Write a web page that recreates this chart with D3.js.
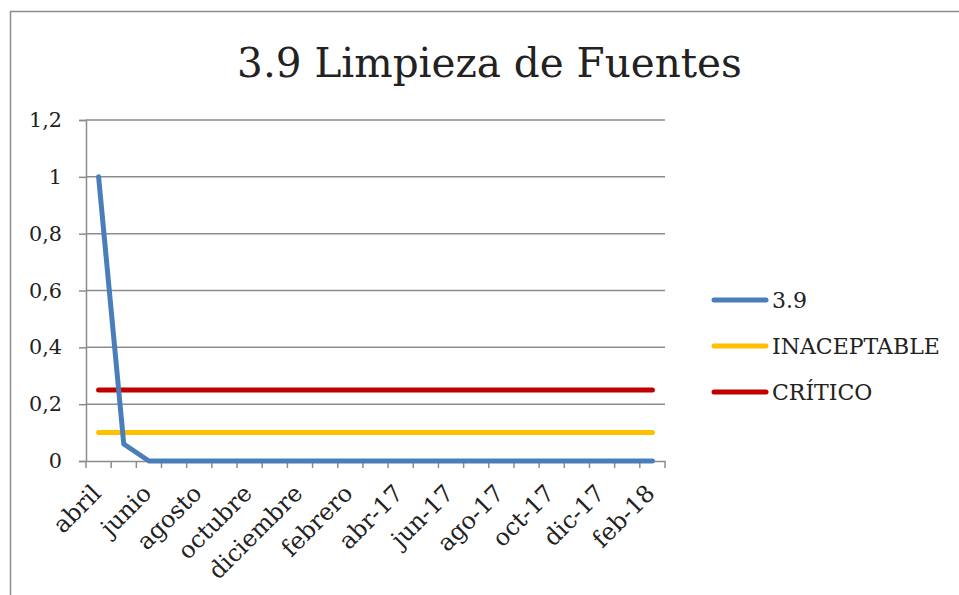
<!DOCTYPE html>
<html>
<head>
<meta charset="utf-8">
<script src="https://cdn.jsdelivr.net/npm/d3@7"></script>
<style>
body{margin:0;background:#fff;}
svg{display:block;}
text{font-family:"DejaVu Serif",serif;fill:#222;}
</style>
</head>
<body>
<svg id="c" width="959" height="595"></svg>
<script>
const months = ["abril","mayo","junio","julio","agosto","septiembre","octubre","noviembre","diciembre","enero","febrero","marzo","abr-17","may-17","jun-17","jul-17","ago-17","sep-17","oct-17","nov-17","dic-17","ene-18","feb-18"];
const tickLabels = ["abril","junio","agosto","octubre","diciembre","febrero","abr-17","jun-17","ago-17","oct-17","dic-17","feb-18"];
const values39 = [1,0.06,0,0,0,0,0,0,0,0,0,0,0,0,0,0,0,0,0,0,0,0,0];
const inaceptable = months.map(() => 0.1);
const critico = months.map(() => 0.25);
const yTicks = [0,0.2,0.4,0.6,0.8,1,1.2];
const seriesNames = ["3.9","INACEPTABLE","CRÍTICO"];
const colors = ["#4a7ebb","#ffc000","#c00000"];

const svg = d3.select("#c");

// measure helper: font size so that sample text has target width
function fitSize(sample, target, base){
  const t = svg.append("text").attr("font-size",base).text(sample);
  const w = t.node().getComputedTextLength();
  t.remove();
  return base*target/w;
}
const titleSize = fitSize("3.9 Limpieza de Fuentes", 505, 40);
const legendSize = fitSize("INACEPTABLE", 168, 20);
const xLabSize = fitSize("diciembre", 121, 20);
const yLabSize = fitSize("0,8", 33, 20);

// chart frame
svg.append("rect").attr("x",10.5).attr("y",11.5).attr("width",1000).attr("height",700)
  .attr("fill","none").attr("stroke","#8c8c8c").attr("stroke-width",1.5);

const x = d3.scaleBand().domain(months).range([86,665]).padding(0);
const y = d3.scaleLinear().domain([0,1.2]).range([461,120]);
const cx = d => x(d) + x.bandwidth()/2;

// gridlines
svg.append("g").selectAll("line").data(yTicks.filter(d=>d>0)).join("line")
  .attr("x1",86).attr("x2",665).attr("y1",d=>y(d)).attr("y2",d=>y(d))
  .attr("stroke","#8c8c8c").attr("stroke-width",1.5);

// y axis
const yAxis = svg.append("g").attr("transform","translate(86,0)")
  .call(d3.axisLeft(y).tickValues(yTicks).tickSize(7).tickPadding(17)
    .tickFormat(d => d3.format("~g")(d).replace(".",",")));
yAxis.select(".domain").attr("stroke","#8c8c8c").attr("stroke-width",1.5);
yAxis.selectAll(".tick line").attr("stroke","#8c8c8c").attr("stroke-width",1.5);
yAxis.selectAll(".tick text").attr("font-size",yLabSize).attr("font-family","DejaVu Serif").attr("fill","#222");

// x axis
const xAxis = svg.append("g").attr("transform","translate(0,461)")
  .call(d3.axisBottom(x).tickSize(0).tickFormat(""));
xAxis.select(".domain").attr("stroke","#8c8c8c").attr("stroke-width",1.5);
// boundary tick marks
const bounds = months.map(d=>x(d)).concat([665]);
svg.append("g").selectAll("line").data(bounds).join("line")
  .attr("x1",d=>d).attr("x2",d=>d).attr("y1",461).attr("y2",468)
  .attr("stroke","#8c8c8c").attr("stroke-width",1.5);
// labels
svg.append("g").selectAll("text").data(tickLabels).join("text")
  .attr("transform",d=>`translate(${cx(d)-2},${489}) rotate(-45)`)
  .attr("text-anchor","end").attr("dy","0.35em")
  .attr("font-size",xLabSize).text(d=>d);

// lines
const line = d3.line().x((d,i)=>cx(months[i])).y(d=>y(d));
[inaceptable, critico, values39].forEach((s)=>{
  const k = s===values39?0:(s===inaceptable?1:2);
  svg.append("path").datum(s).attr("d",line).attr("fill","none")
    .attr("stroke",colors[k]).attr("stroke-width",5)
    .attr("stroke-linecap","round").attr("stroke-linejoin","round");
});

// legend
const ly = [300,346,392];
seriesNames.forEach((n,k)=>{
  const g = svg.append("g");
  g.append("line").attr("x1",714).attr("x2",766).attr("y1",ly[k]).attr("y2",ly[k])
    .attr("stroke",colors[k]).attr("stroke-width",5).attr("stroke-linecap","round");
  g.append("text").attr("x",772).attr("y",ly[k]).attr("dy","0.35em").attr("font-size",legendSize).text(n);
});

// title
svg.append("text").attr("x",489.5).attr("y",77).attr("text-anchor","middle")
  .attr("font-size",titleSize).text("3.9 Limpieza de Fuentes");
</script>
</body>
</html>
